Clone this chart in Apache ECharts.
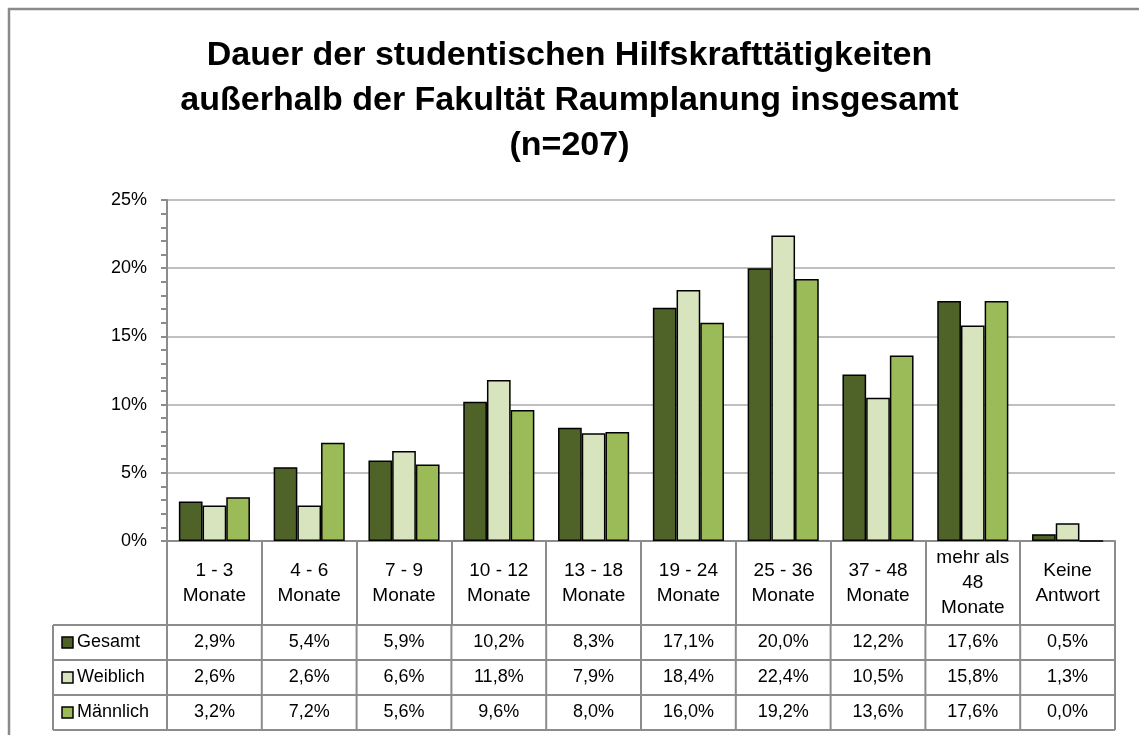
<!DOCTYPE html>
<html>
<head>
<meta charset="utf-8">
<script src="https://cdn.jsdelivr.net/npm/echarts@6/dist/echarts.min.js"></script>
<style>
  html, body { margin: 0; padding: 0; background: #fff; }
  #main { width: 1139px; height: 735px; }
</style>
</head>
<body>
<div id="main"></div>
<script>
// Daten
const categories = ["1 - 3\nMonate", "4 - 6\nMonate", "7 - 9\nMonate", "10 - 12\nMonate", "13 - 18\nMonate",
  "19 - 24\nMonate", "25 - 36\nMonate", "37 - 48\nMonate", "mehr als\n48\nMonate", "Keine\nAntwort"];
const seriesNames = ["Gesamt", "Weiblich", "Männlich"];
const gesamt = [2.9, 5.4, 5.9, 10.2, 8.3, 17.1, 20.0, 12.2, 17.6, 0.5];
const weiblich = [2.6, 2.6, 6.6, 11.8, 7.9, 18.4, 22.4, 10.5, 15.8, 1.3];
const maennlich = [3.2, 7.2, 5.6, 9.6, 8.0, 16.0, 19.2, 13.6, 17.6, 0.0];
const yTicks = [0, 5, 10, 15, 20, 25];

const seriesData = [gesamt, weiblich, maennlich];
const colors = ["#4f6228", "#d7e4bd", "#9bbb59"];
const borderGray = "#8c8c8c";
const font = "'Liberation Sans', Arial, sans-serif";

const fmt = (v) => v.toFixed(1).replace(".", ",") + "%";

const myChart = echarts.init(document.getElementById("main"));

const option = {
  animation: false,
  title: {
    text: "Dauer der studentischen Hilfskrafttätigkeiten\naußerhalb der Fakultät Raumplanung insgesamt\n(n=207)",
    left: "center",
    top: 28,
    textStyle: {
      fontFamily: font,
      fontWeight: "bold",
      fontSize: 34,
      lineHeight: 45,
      color: "#000",
    },
  },
  grid: { left: 167, right: 24, top: 200, bottom: 194 },
  xAxis: {
    type: "category",
    data: categories,
    axisLine: { lineStyle: { color: borderGray, width: 2 } },
    axisTick: { show: true, length: 84, lineStyle: { color: borderGray, width: 2 } },
    axisLabel: {
      interval: 0,
      margin: 42,
      verticalAlign: "middle",
      lineHeight: 25,
      fontSize: 19,
      fontFamily: font,
      color: "#000",
    },
  },
  yAxis: {
    type: "value",
    min: yTicks[0],
    max: yTicks[yTicks.length - 1],
    interval: 5,
    axisLine: { show: true, lineStyle: { color: borderGray, width: 2 } },
    axisTick: { show: true, length: 6, lineStyle: { color: borderGray, width: 2 } },
    minorTick: { show: true, splitNumber: 5, length: 6, lineStyle: { color: borderGray, width: 2 } },
    splitLine: { lineStyle: { color: "#c0c0c0", width: 2 } },
    axisLabel: {
      formatter: "{value}%",
      fontSize: 18,
      fontFamily: font,
      color: "#000",
      margin: 20,
    },
  },
  series: seriesNames.map((name, i) => ({
    name: name,
    type: "bar",
    data: seriesData[i],
    barGap: "0%",
    barCategoryGap: "25%",
    itemStyle: { color: colors[i], borderColor: "#000", borderWidth: 1.5 },
  })),
};

myChart.setOption(option);

// Datentabelle unter der Achse
const rowTop = 625;
const rowH = 35;
const tableLeft = 53;
const step = myChart.convertToPixel({ xAxisIndex: 0 }, 1) - myChart.convertToPixel({ xAxisIndex: 0 }, 0);
const firstX = myChart.convertToPixel({ xAxisIndex: 0 }, 0) - step / 2;
const lastX = firstX + step * categories.length;
const tableBottom = rowTop + rowH * seriesNames.length;

const graphics = [];
// Rahmen ums Diagramm
graphics.push({
  type: "rect",
  shape: { x: 9, y: 9, width: 1140, height: 740 },
  style: { fill: null, stroke: "#8a8a8a", lineWidth: 2.5 },
  silent: true,
});
// horizontale Linien
for (let r = 0; r <= seriesNames.length; r++) {
  const y = rowTop + r * rowH;
  graphics.push({
    type: "line",
    shape: { x1: tableLeft, y1: y, x2: lastX, y2: y },
    style: { stroke: borderGray, lineWidth: 2 },
  });
}
// vertikale Linien
graphics.push({
  type: "line",
  shape: { x1: tableLeft, y1: rowTop, x2: tableLeft, y2: tableBottom },
  style: { stroke: borderGray, lineWidth: 2 },
});
for (let c = 0; c <= categories.length; c++) {
  const x = firstX + c * step;
  graphics.push({
    type: "line",
    shape: { x1: x, y1: rowTop, x2: x, y2: tableBottom },
    style: { stroke: borderGray, lineWidth: 2 },
  });
}
// Legendenspalte + Werte
seriesNames.forEach((name, r) => {
  const cy = rowTop + r * rowH + rowH / 2;
  graphics.push({
    type: "rect",
    shape: { x: 62, y: cy - 5.5, width: 11, height: 11 },
    style: { fill: colors[r], stroke: "#000", lineWidth: 1.5 },
  });
  graphics.push({
    type: "text",
    x: 77,
    y: cy,
    style: { text: name, fontSize: 18, fontFamily: font, fill: "#000", verticalAlign: "middle", align: "left" },
  });
  seriesData[r].forEach((v, c) => {
    graphics.push({
      type: "text",
      x: firstX + (c + 0.5) * step,
      y: cy,
      style: { text: fmt(v), fontSize: 18, fontFamily: font, fill: "#000", verticalAlign: "middle", align: "center" },
    });
  });
});

myChart.setOption({ graphic: graphics });
</script>
</body>
</html>
